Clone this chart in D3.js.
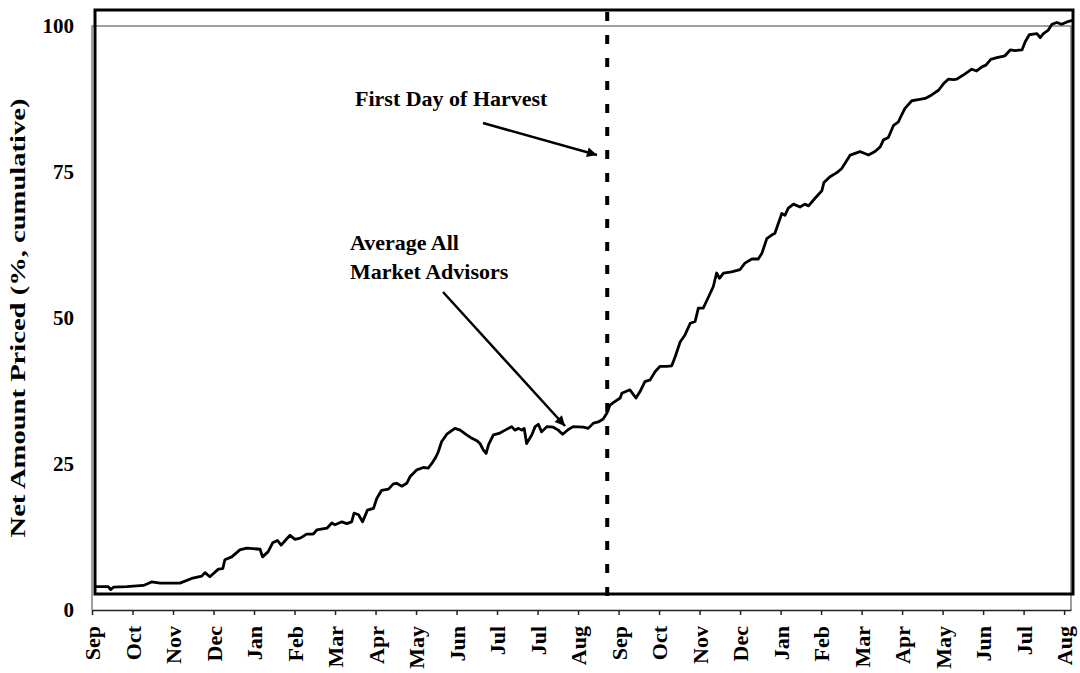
<!DOCTYPE html>
<html>
<head>
<meta charset="utf-8">
<script src="https://cdn.jsdelivr.net/npm/d3@7"></script>
<style>
  body { margin: 0; background: #fff; }
  text { font-family: "Liberation Serif", "Times New Roman", serif; font-weight: bold; fill: #000; }
</style>
</head>
<body>
<svg id="grafico" width="1080" height="673"></svg>
<script>
// month tick labels (two marketing years)
const monthLabels = ["Sep","Oct","Nov","Dec","Jan","Feb","Mar","Apr","May","Jun","Jul","Jul","Aug",
  "Sep","Oct","Nov","Dec","Jan","Feb","Mar","Apr","May","Jun","Jul","Aug"];

// position in months since first Sep tick
const monthPos = [0.07,0.40,0.46,0.53,0.86,1.27,1.47,1.68,2.17,2.46,2.71,2.79,2.91,3.12,3.23,3.28,3.45,3.65,3.82,4.15,
  4.21,4.35,4.46,4.58,4.67,4.77,4.89,5.01,5.14,5.30,5.46,5.55,5.80,5.92,6.00,6.17,6.29,6.41,6.47,6.58,6.68,6.80,6.95,
  7.03,7.15,7.32,7.44,7.52,7.65,7.77,7.85,8.02,8.18,8.30,8.39,8.49,8.55,8.63,8.76,8.96,9.09,9.25,9.38,9.50,9.58,9.66,
  9.73,9.79,9.91,10.07,10.20,10.36,10.44,10.53,10.61,10.67,10.73,10.86,10.94,11.02,11.10,11.23,11.39,11.51,11.62,11.76,
  11.88,12.13,12.25,12.38,12.50,12.62,12.71,12.79,12.87,13.04,
  13.08,13.28,13.43,13.53,13.65,13.78,13.90,14.02,14.19,14.31,14.40,14.52,14.64,14.77,14.89,14.97,15.09,15.22,15.34,
  15.42,15.49,15.59,15.79,16.00,16.12,16.29,16.45,16.54,16.66,16.78,16.86,17.03,17.11,17.19,17.32,17.48,
  17.60,17.69,17.85,18.02,18.07,18.22,18.39,18.51,18.72,18.96,19.17,19.33,19.46,19.54,19.66,19.79,19.91,19.99,20.07,
  20.24,20.40,20.57,20.73,20.90,21.02,21.14,21.27,21.35,21.51,21.72,21.84,21.97,22.07,22.19,22.34,22.54,22.67,22.79,
  22.96,23.04,23.14,23.24,23.33,23.41,23.49,23.61,23.70,23.82,23.94,24.07,24.23];

// net amount priced, % cumulative (average all market advisors)
const priced = [4.0,4.0,3.5,3.9,4.0,4.2,4.8,4.6,4.6,5.4,5.8,6.4,5.7,7.0,7.1,8.6,9.1,10.3,10.6,10.4,
  9.1,10.0,11.5,11.9,11.1,11.9,12.8,12.1,12.3,13.0,13.0,13.7,14.0,14.9,14.6,15.1,14.8,15.1,16.6,16.3,15.1,17.1,17.4,
  19.1,20.5,20.7,21.6,21.7,21.2,21.7,22.8,24.0,24.4,24.3,25.1,26.2,27.1,28.8,30.1,31.1,30.8,30.0,29.4,29.0,28.5,27.4,
  26.8,28.3,30.0,30.3,30.8,31.4,30.8,31.1,30.8,31.1,28.5,30.0,31.4,31.8,30.5,31.4,31.3,30.8,30.1,30.9,
  31.4,31.3,31.1,32.0,32.2,32.7,33.7,35.1,35.5,36.3,
  37.1,37.7,36.3,37.4,39.1,39.4,40.8,41.7,41.7,41.8,43.4,45.9,47.1,49.1,49.4,51.7,51.7,53.6,55.4,
  57.7,56.8,57.7,57.9,58.3,59.4,60.1,60.1,61.1,63.6,64.2,64.5,67.9,67.6,68.8,69.5,69.0,
  69.5,69.2,70.5,71.8,73.2,74.2,74.9,75.6,77.9,78.5,77.9,78.5,79.3,80.5,80.9,83.0,83.6,84.8,85.9,
  87.2,87.4,87.6,88.2,89.0,90.1,90.9,90.8,90.9,91.6,92.6,92.3,93.0,93.3,94.3,94.6,94.9,95.9,95.8,
  95.9,97.3,98.5,98.6,98.7,98.0,98.7,99.3,100.3,100.6,100.3,100.7,101.0];

const harvestMonth = 12.72;
const yTicks = [0, 25, 50, 75, 100];

const svg = d3.select("#grafico");

const x = d3.scaleLinear().domain([0, 24.17]).range([92, 1071]);
const y = d3.scaleLinear().domain([0, 100]).range([610, 26]);

// thin gray frame (value axis + 100 line + right edge)
svg.append("path")
  .attr("d", `M${x(0)},${y(0)}V${y(100)}H${x(24.17)}V${y(0)}`)
  .attr("fill", "none")
  .attr("stroke", "#808080")
  .attr("stroke-width", 1.5);

// heavy plot border
svg.append("rect")
  .attr("x", 95).attr("y", 10)
  .attr("width", 978).attr("height", 584)
  .attr("fill", "none")
  .attr("stroke", "#000")
  .attr("stroke-width", 3);

// x axis
const xAxis = svg.append("g")
  .attr("transform", `translate(0,${y(0)})`)
  .call(d3.axisBottom(x)
    .tickValues(d3.range(monthLabels.length))
    .tickFormat(i => monthLabels[i])
    .tickSize(5)
    .tickSizeOuter(0));
xAxis.select(".domain").attr("stroke", "#222").attr("stroke-width", 1.5);
xAxis.selectAll(".tick line").attr("stroke", "#222").attr("stroke-width", 1.5);
xAxis.selectAll(".tick text")
  .attr("transform", "rotate(-90)")
  .attr("x", -16)
  .attr("y", 0)
  .attr("dy", "0.35em")
  .attr("text-anchor", "end")
  .style("font-size", "22px")
  .style("font-family", "'Liberation Serif', serif")
  .style("font-weight", "bold")
  .attr("fill", "#000");

// y labels
svg.append("g").selectAll("text")
  .data(yTicks)
  .enter()
  .append("text")
  .attr("x", 74)
  .attr("y", d => y(d))
  .attr("dy", "0.35em")
  .attr("text-anchor", "end")
  .style("font-size", "21px")
  .text(d => d);

svg.append("text")
  .attr("transform", `translate(25,${y(50)}) rotate(-90) scale(1.3,1)`)
  .attr("text-anchor", "middle")
  .style("font-size", "22px")
  .text("Net Amount Priced (%, cumulative)");

// price line
const pts = monthPos.map((m, i) => [m, priced[i]]);
const line = d3.line().x(d => x(d[0])).y(d => y(d[1]));
svg.append("path")
  .datum(pts)
  .attr("d", line)
  .attr("fill", "none")
  .attr("stroke", "#000")
  .attr("stroke-width", 2.8)
  .attr("stroke-linejoin", "round");

// first day of harvest
svg.append("line")
  .attr("x1", x(harvestMonth)).attr("x2", x(harvestMonth))
  .attr("y1", 12).attr("y2", y(0))
  .attr("stroke", "#000")
  .attr("stroke-width", 4)
  .attr("stroke-dasharray", "9,14");

// arrows
svg.append("defs").append("marker")
  .attr("id", "head")
  .attr("viewBox", "0 0 10 10")
  .attr("refX", 10).attr("refY", 5)
  .attr("markerWidth", 5).attr("markerHeight", 4)
  .attr("markerUnits", "strokeWidth")
  .attr("orient", "auto")
  .append("path")
  .attr("d", "M0,0L10,5L0,10z")
  .attr("fill", "#000");

svg.append("line")
  .attr("x1", 483).attr("y1", 123).attr("x2", 597).attr("y2", 155)
  .attr("stroke", "#000").attr("stroke-width", 2.5)
  .attr("marker-end", "url(#head)");

svg.append("line")
  .attr("x1", 443).attr("y1", 292).attr("x2", 565).attr("y2", 426)
  .attr("stroke", "#000").attr("stroke-width", 2.5)
  .attr("marker-end", "url(#head)");

svg.append("text").attr("x", 355).attr("y", 106).style("font-size", "22px").text("First Day of Harvest");
svg.append("text").attr("x", 350).attr("y", 250).style("font-size", "22px").text("Average All");
svg.append("text").attr("x", 350).attr("y", 279).style("font-size", "22px").text("Market Advisors");
</script>
</body>
</html>
